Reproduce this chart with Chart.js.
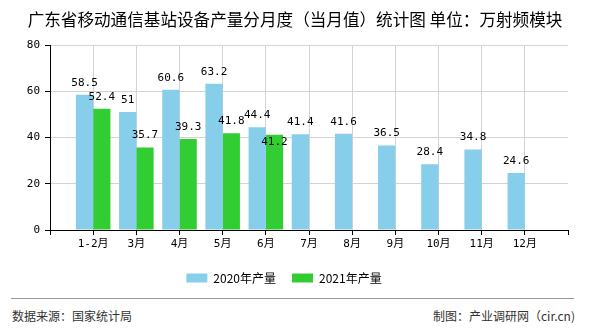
<!DOCTYPE html>
<html>
<head>
<meta charset="utf-8">
<script src="https://cdn.jsdelivr.net/npm/chart.js@4"></script>
<style>
  body { margin: 0; background: #fff; }
  #wrap { position: relative; width: 590px; height: 330px; overflow: hidden; }
  #title { position: absolute; left: 0; top: 9px; width: 590px; text-align: center;
           font: 16.6px "Noto Sans CJK SC", sans-serif; color: #000; line-height: 20px; }
  #box { position: absolute; left: 0; top: 0; width: 590px; height: 295px; }
  #rule { position: absolute; left: 11px; top: 298px; width: 563px; height: 1px; background: #999; }
  .foot { position: absolute; top: 308px; font: 12px "Noto Sans CJK SC", sans-serif; color: #333; line-height: 16px; }
</style>
</head>
<body>
<div id="wrap">
  <div id="box"><canvas id="chart"></canvas></div>
  <div id="title">广东省移动通信基站设备产量分月度（当月值）统计图 单位：万射频模块</div>
  <div id="rule"></div>
  <div class="foot" style="left:12px">数据来源：国家统计局</div>
  <div class="foot" style="right:15px">制图：产业调研网（cir.cn)</div>
</div>
<script>
const months = ["1-2月", "3月", "4月", "5月", "6月", "7月", "8月", "9月", "10月", "11月", "12月"];
const output2020 = [58.5, 51, 60.6, 63.2, 44.4, 41.4, 41.6, 36.5, 28.4, 34.8, 24.6];
const output2021 = [52.4, 35.7, 39.3, 41.8, 41.2, null, null, null, null, null, null];
const yMin = 0, yMax = 80, yStep = 20;

// blank slot at each end so the months sit on ticks one step in from the axis
const labels = ["", ...months, ""];
const pad = arr => [null, ...arr, null];

const monoFont = { family: "'DejaVu Sans Mono', 'Noto Sans CJK SC', monospace", size: 11 };

// value labels above each bar, nudged down into the bar when they would collide
const valueLabels = {
  id: "valueLabels",
  afterDatasetsDraw(chart) {
    const ctx = chart.ctx;
    ctx.save();
    ctx.font = "11px 'DejaVu Sans Mono', monospace";
    ctx.fillStyle = "#000";
    ctx.textAlign = "center";
    ctx.textBaseline = "middle";
    const placed = [];
    const n = chart.data.labels.length;
    for (let i = 0; i < n; i++) {
      chart.data.datasets.forEach((ds, d) => {
        const v = ds.data[i];
        if (v == null) return;
        const bar = chart.getDatasetMeta(d).data[i];
        const text = String(v);
        const w = ctx.measureText(text).width;
        let y = bar.y - 12;
        const hits = r => Math.abs(r.x - bar.x) < (r.w + w) / 2 - 4 && Math.abs(r.y - y) < 11;
        if (placed.some(hits)) y = bar.y + 7;
        placed.push({ x: bar.x, y, w });
        ctx.fillText(text, bar.x, y);
      });
    }
    ctx.restore();
  }
};

new Chart(document.getElementById("chart"), {
  type: "bar",
  data: {
    labels,
    datasets: [
      { label: "2020年产量", data: pad(output2020), backgroundColor: "#87ceeb" },
      { label: "2021年产量", data: pad(output2021), backgroundColor: "#32cd32" }
    ]
  },
  options: {
    responsive: true,
    maintainAspectRatio: false,
    animation: false,
    layout: { padding: { top: 45, right: 22, bottom: 1, left: 0 } },
    datasets: { bar: { categoryPercentage: 0.8, barPercentage: 1 } },
    scales: {
      x: {
        offset: false,
        grid: {
          offset: false,
          color: c => (c.index === labels.length - 1 ? "rgba(0,0,0,0)" : "#d3d3d3"),
          tickColor: "#000",
          tickLength: 5
        },
        border: { color: "#000" },
        ticks: { color: "#000", font: monoFont, padding: 3, autoSkip: false, maxRotation: 0 },
        afterFit: s => { s.height = 26; }
      },
      y: {
        min: yMin,
        max: yMax,
        ticks: { stepSize: yStep, color: "#000", font: monoFont, padding: 5 },
        grid: { color: "#d3d3d3", tickColor: "#000", tickLength: 5 },
        border: { color: "#000" },
        afterFit: s => { s.width = 50; }
      }
    },
    plugins: {
      legend: {
        position: "bottom",
        labels: {
          boxWidth: 21,
          boxHeight: 9,
          padding: 16,
          color: "#000",
          font: { family: "'Noto Sans CJK SC', sans-serif", size: 12 }
        }
      },
      tooltip: { enabled: false }
    }
  },
  plugins: [valueLabels]
});
</script>
</body>
</html>
